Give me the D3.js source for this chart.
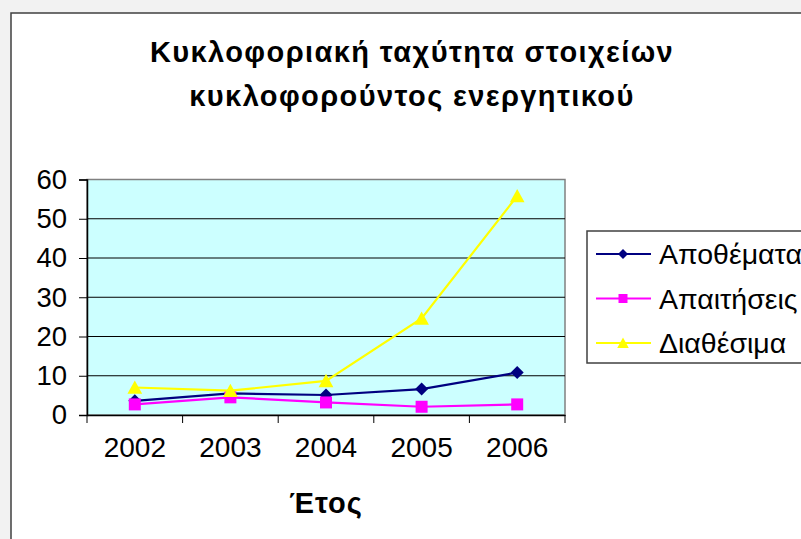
<!DOCTYPE html>
<html>
<head>
<meta charset="utf-8">
<script src="https://cdn.jsdelivr.net/npm/d3@7"></script>
<style>
  html, body { margin: 0; padding: 0; background: #f2f2f2; }
  svg { display: block; font-family: "Liberation Sans", Arial, sans-serif; }
</style>
</head>
<body>
<svg id="chart" width="801" height="539"></svg>
<script>
// Years on the category axis
const years = ["2002", "2003", "2004", "2005", "2006"];
// Series values per year
const apothemata = [3.6, 5.5, 5.1, 6.6, 10.8];
const apaitiseis = [2.7, 4.5, 3.2, 2.1, 2.7];
const diathesima = [7.0, 6.2, 8.7, 24.6, 55.8];
const seriesNames = ["Αποθέματα", "Απαιτήσεις", "Διαθέσιμα"];
const yTicks = [0, 10, 20, 30, 40, 50, 60];
const titleLines = ["Κυκλοφοριακή ταχύτητα στοιχείων", "κυκλοφορούντος ενεργητικού"];
const xTitle = "Έτος";

const series = [
  { name: seriesNames[0], values: apothemata, color: "#000080", marker: "diamond" },
  { name: seriesNames[1], values: apaitiseis, color: "#ff00ff", marker: "square" },
  { name: seriesNames[2], values: diathesima, color: "#ffff00", marker: "triangle" }
];

const svg = d3.select("#chart");

// Page background and chart frame
svg.append("rect").attr("width", 801).attr("height", 539).attr("fill", "#f2f2f2");
svg.append("rect")
  .attr("x", 11).attr("y", 13).attr("width", 820).attr("height", 560)
  .attr("fill", "#ffffff").attr("stroke", "#404040").attr("stroke-width", 1.5);

// Title
const title = svg.append("text")
  .attr("text-anchor", "middle")
  .attr("font-weight", "bold").attr("font-size", 29)
  .attr("letter-spacing", 1.4).attr("fill", "#000");
title.selectAll("tspan").data(titleLines).join("tspan")
  .attr("x", 412).attr("y", (d, i) => 62 + i * 44).text(d => d);

// Plot area
const plot = { left: 87, right: 565, top: 179.5, bottom: 415 };

const x = d3.scaleBand().domain(years).range([plot.left, plot.right]).padding(0);
const y = d3.scaleLinear().domain([0, 60]).range([plot.bottom, plot.top]);

svg.append("rect")
  .attr("x", plot.left).attr("y", plot.top)
  .attr("width", plot.right - plot.left).attr("height", plot.bottom - plot.top)
  .attr("fill", "#ccffff").attr("stroke", "#808080").attr("stroke-width", 1.5);

// Horizontal gridlines
svg.append("g").selectAll("line")
  .data(yTicks.filter(t => t > 0 && t < 60)).join("line")
  .attr("x1", plot.left).attr("x2", plot.right)
  .attr("y1", d => y(d)).attr("y2", d => y(d))
  .attr("stroke", "#000").attr("stroke-width", 1);

// Y axis
const yAxis = svg.append("g")
  .attr("transform", `translate(${plot.left},0)`)
  .call(d3.axisLeft(y).tickValues(yTicks).tickSize(8).tickPadding(12));
yAxis.select(".domain").attr("stroke", "#000").attr("stroke-width", 1.5);
yAxis.selectAll(".tick line").attr("stroke", "#000");
yAxis.selectAll("text").attr("font-size", 27.5).attr("fill", "#000")
  .attr("font-family", "Liberation Sans, Arial, sans-serif");

// X axis: ticks at category boundaries, labels at category centres
const xAxis = svg.append("g")
  .attr("transform", `translate(0,${plot.bottom})`)
  .call(d3.axisBottom(x).tickSize(0).tickPadding(22));
xAxis.select(".domain").attr("stroke", "#000").attr("stroke-width", 1.5);
xAxis.selectAll("text").attr("font-size", 28).attr("fill", "#000")
  .attr("font-family", "Liberation Sans, Arial, sans-serif");
const boundaries = years.map(d => x(d)).concat([x(years[years.length - 1]) + x.bandwidth()]);
xAxis.append("g").selectAll("line").data(boundaries).join("line")
  .attr("x1", d => d).attr("x2", d => d)
  .attr("y1", 0).attr("y2", 8)
  .attr("stroke", "#000").attr("stroke-width", 1);

// X axis title
svg.append("text")
  .attr("x", (plot.left + plot.right) / 2).attr("y", 513)
  .attr("text-anchor", "middle")
  .attr("font-weight", "bold").attr("font-size", 29).attr("letter-spacing", 1)
  .attr("fill", "#000")
  .text(xTitle);

// Marker shapes
function markerPath(type, size) {
  const h = size / 2;
  if (type === "diamond") return `M0,${-h}L${h},0L0,${h}L${-h},0Z`;
  if (type === "square") return `M${-h},${-h}H${h}V${h}H${-h}Z`;
  return `M0,${-h}L${h * 1.05},${h * 0.9}L${-h * 1.05},${h * 0.9}Z`;
}
const markerSize = { diamond: 13, square: 12, triangle: 14 };

const line = d3.line()
  .x((d, i) => x(years[i]) + x.bandwidth() / 2)
  .y(d => y(d));

series.forEach(s => {
  const g = svg.append("g");
  g.append("path").datum(s.values)
    .attr("d", line).attr("fill", "none")
    .attr("stroke", s.color).attr("stroke-width", 2.2);
  g.selectAll("path.m").data(s.values).join("path")
    .attr("class", "m")
    .attr("transform", (d, i) => `translate(${x(years[i]) + x.bandwidth() / 2},${y(d)})`)
    .attr("d", markerPath(s.marker, markerSize[s.marker]))
    .attr("fill", s.color);
});

// Legend
const legend = svg.append("g");
legend.append("rect")
  .attr("x", 587).attr("y", 231).attr("width", 260).attr("height", 132)
  .attr("fill", "#ffffff").attr("stroke", "#404040").attr("stroke-width", 1.5);
const legendSize = { diamond: 10, square: 9, triangle: 11 };
series.forEach((s, i) => {
  const cy = 254 + i * 44.5;
  legend.append("line")
    .attr("x1", 596).attr("x2", 651).attr("y1", cy).attr("y2", cy)
    .attr("stroke", s.color).attr("stroke-width", 2.2);
  legend.append("path")
    .attr("transform", `translate(623,${cy})`)
    .attr("d", markerPath(s.marker, legendSize[s.marker]))
    .attr("fill", s.color);
  legend.append("text")
    .attr("x", 659).attr("y", cy + 10)
    .attr("font-size", 28.5).attr("fill", "#000")
    .text(s.name);
});
</script>
</body>
</html>
